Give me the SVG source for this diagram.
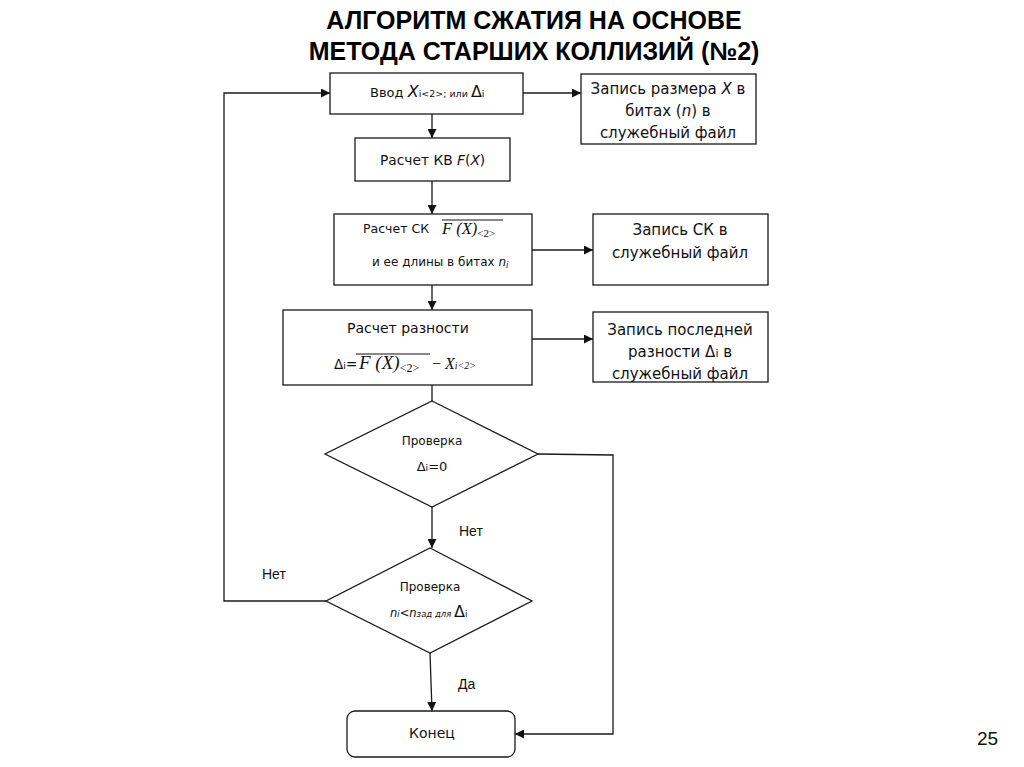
<svg xmlns="http://www.w3.org/2000/svg" width="1024" height="767" viewBox="0 0 1024 767">
<style>
.box{fill:#fff;stroke:#1a1a1a;stroke-width:1.3}
.ln{fill:none;stroke:#1a1a1a;stroke-width:1.3}
.t{font-family:"DejaVu Sans",Verdana,sans-serif;fill:#111}
.r{font-family:"DejaVu Sans",Verdana,sans-serif;font-size:15px;fill:#111;text-anchor:middle}
.m{font-family:"Liberation Serif","Times New Roman",serif;font-style:italic;fill:#111}
.lab{font-family:"Liberation Sans",Arial,sans-serif;fill:#111}
.title{font-family:"Liberation Sans",Arial,sans-serif;font-size:25px;font-weight:bold;fill:#000;text-anchor:middle}
</style>
<defs>
<marker id="ar" viewBox="0 0 10 10" refX="10" refY="5" markerWidth="9" markerHeight="9" markerUnits="userSpaceOnUse" orient="auto">
<path d="M0,0 L10,5 L0,10 z" fill="#111"/>
</marker>
</defs>
<rect width="1024" height="767" fill="#fff"/>
<g id="title">
<text class="title" x="534" y="29">АЛГОРИТМ СЖАТИЯ НА ОСНОВЕ</text>
<text class="title" x="534" y="60">МЕТОДА СТАРШИХ КОЛЛИЗИЙ (№2)</text>
</g>
<g id="connectors">
<polyline class="ln" points="326,601 224,601 224,93 330,93" marker-end="url(#ar)"/>
<line class="ln" x1="523" y1="93" x2="581" y2="93" marker-end="url(#ar)"/>
<line class="ln" x1="432" y1="114" x2="432" y2="138" marker-end="url(#ar)"/>
<line class="ln" x1="432" y1="181" x2="432" y2="214" marker-end="url(#ar)"/>
<line class="ln" x1="532" y1="250" x2="593" y2="250" marker-end="url(#ar)"/>
<line class="ln" x1="432" y1="285" x2="432" y2="310" marker-end="url(#ar)"/>
<line class="ln" x1="532" y1="339" x2="593" y2="339" marker-end="url(#ar)"/>
<line class="ln" x1="432" y1="385" x2="432" y2="401"/>
<line class="ln" x1="432" y1="507" x2="432" y2="548" marker-end="url(#ar)"/>
<polyline class="ln" points="538,454 613,455 613,734 515,734" marker-end="url(#ar)"/>
<line class="ln" x1="430" y1="653" x2="432" y2="711" marker-end="url(#ar)"/>
</g>
<g id="n-input">
<rect class="box" x="330" y="73" width="193" height="41"/>
<text class="t" x="370" y="97" font-size="13">Ввод <tspan font-style="italic" font-size="16">X</tspan><tspan font-size="9.5">i&lt;2&gt;; или </tspan><tspan font-size="16">Δ</tspan><tspan font-size="9.5">i</tspan></text>
</g>
<g id="n-save-size">
<rect class="box" x="581" y="74" width="175" height="70"/>
<text class="r" x="668" y="94">Запись размера <tspan font-style="italic">X</tspan> в</text>
<text class="r" x="668" y="116">битах (<tspan font-style="italic">n</tspan>) в</text>
<text class="r" x="668" y="138">служебный файл</text>
</g>
<g id="n-kv">
<rect class="box" x="355" y="138" width="155" height="43"/>
<text class="t" x="380" y="165" font-size="13.8">Расчет КВ <tspan font-style="italic">F</tspan>(<tspan font-style="italic">X</tspan>)</text>
</g>
<g id="n-sk">
<rect class="box" x="334" y="214" width="198" height="71"/>
<text class="t" x="363" y="233" font-size="12.5">Расчет СК</text>
<text class="m" x="442" y="234" font-size="16.5">F (X)<tspan font-size="11" font-style="normal" dy="3">&lt;2&gt;</tspan></text>
<line x1="442" y1="220" x2="503" y2="220" stroke="#111" stroke-width="1"/>
<text class="t" x="372" y="266" font-size="12">и ее длины в битах <tspan font-style="italic">n</tspan><tspan font-size="8.5" font-style="italic" dy="2">i</tspan></text>
</g>
<g id="n-save-sk">
<rect class="box" x="593" y="214" width="175" height="71"/>
<text class="r" x="680" y="235">Запись СК в</text>
<text class="r" x="680" y="258">служебный файл</text>
</g>
<g id="n-diff">
<rect class="box" x="283" y="310" width="249" height="75"/>
<text class="t" x="347" y="333" font-size="14">Расчет разности</text>
<text class="t" x="334" y="369" font-size="13.5">Δ<tspan font-size="9.5">i</tspan>=</text>
<text class="m" x="359" y="369" font-size="19">F (X)<tspan font-size="12" font-style="normal" dy="3">&lt;2&gt;</tspan></text>
<line x1="356" y1="354" x2="430" y2="354" stroke="#111" stroke-width="1"/>
<text class="m" x="432" y="369" font-size="16"><tspan font-style="normal">−</tspan> X<tspan font-size="10">i&lt;2&gt;</tspan></text>
</g>
<g id="n-save-diff">
<rect class="box" x="593" y="312" width="175" height="70"/>
<text class="r" x="680" y="335">Запись последней</text>
<text class="r" x="680" y="357">разности  Δ<tspan font-size="11">i</tspan> в</text>
<text class="r" x="680" y="379">служебный файл</text>
</g>
<g id="n-check1">
<polygon class="box" points="432,401 538,454 432,507 325,454"/>
<text class="t" x="432" y="445" text-anchor="middle" font-size="12">Проверка</text>
<text class="t" x="432" y="471" text-anchor="middle" font-size="13">Δ<tspan font-size="9.5">i</tspan>=0</text>
</g>
<g id="n-check2">
<polygon class="box" points="430,548 532,601 430,653 326,601"/>
<text class="t" x="430" y="591" text-anchor="middle" font-size="12">Проверка</text>
<text class="t" x="390" y="617" font-size="11.5" font-style="italic">n<tspan font-size="8.5">i</tspan>&lt;n<tspan font-size="8.5">зад для </tspan><tspan font-style="normal" font-size="16">Δ</tspan><tspan font-style="normal" font-size="9">i</tspan></text>
</g>
<g id="n-end">
<rect class="box" x="347" y="711" width="168" height="46" rx="8" ry="8"/>
<text class="t" x="432" y="738" text-anchor="middle" font-size="14">Конец</text>
</g>
<g id="labels">
<text class="lab" x="459" y="536" font-size="14">Нет</text>
<text class="lab" x="262" y="579" font-size="14">Нет</text>
<text class="lab" x="458" y="689" font-size="14">Да</text>
<text class="lab" x="977" y="745" font-size="19" font-family="DejaVu Sans, sans-serif">25</text>
</g>
</svg>
